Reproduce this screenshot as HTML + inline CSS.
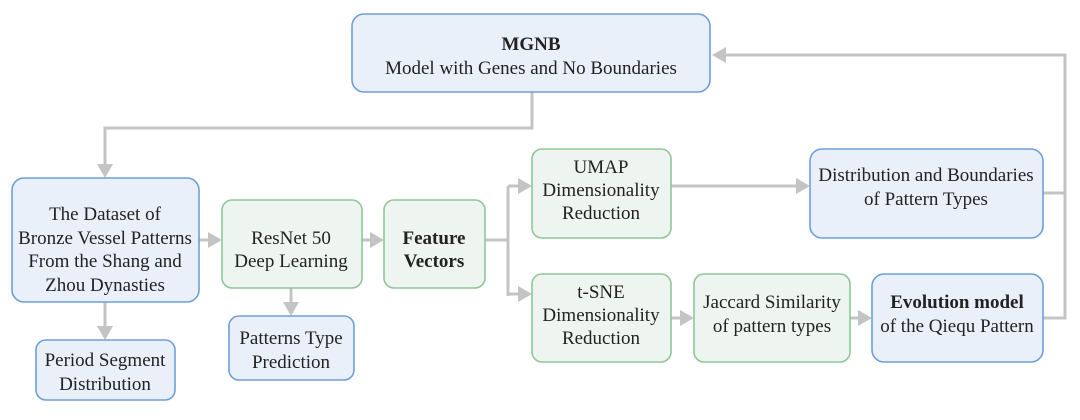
<!DOCTYPE html>
<html><head><meta charset="utf-8"><style>
body{margin:0;background:#fff}
text{font-family:"Liberation Serif","Times New Roman","DejaVu Serif",serif;font-size:19px;fill:#222;text-anchor:middle}
.b{fill:#e9f0fa;stroke:#6d9fdb;stroke-width:1.6}
.g{fill:#eef4f0;stroke:#8ec79c;stroke-width:1.6}
.l{fill:none;stroke:#c4c4c4;stroke-width:3}
.a{fill:#c4c4c4}
</style></head><body>
<svg width="1080" height="415" xmlns="http://www.w3.org/2000/svg">
<path class="l" d="M532 92 V128 H105 V166"/><polygon class="a" points="97,164 113,164 105,178"/>
<path class="l" d="M105 302 V328"/><polygon class="a" points="97,326 113,326 105,340"/>
<path class="l" d="M199 240 H210"/><polygon class="a" points="208,232 208,248 222,240"/>
<path class="l" d="M291 288 V304"/><polygon class="a" points="283,302 299,302 291,316"/>
<path class="l" d="M362 240 H372"/><polygon class="a" points="370,232 370,248 384,240"/>
<path class="l" d="M485 240 H508 M508 186 V296 M508 186 H520 M508 294 H520"/>
<polygon class="a" points="518,178 518,194 532,186"/><polygon class="a" points="518,286 518,302 532,294"/>
<path class="l" d="M671 186 H798"/><polygon class="a" points="796,178 796,194 810,186"/>
<path class="l" d="M671 318 H682"/><polygon class="a" points="680,310 680,326 694,318"/>
<path class="l" d="M850 318 H860"/><polygon class="a" points="858,310 858,326 872,318"/>
<path class="l" d="M1043 318 H1065 V55 H724 M1043 193 H1065"/><polygon class="a" points="726,47 726,63 712,55"/>
<rect class="b" x="352" y="14" width="358" height="78" rx="12"/>
<text x="531" y="50" font-weight="bold">MGNB</text><text x="531" y="74">Model with Genes and No Boundaries</text>
<rect class="b" x="12" y="178" width="187" height="124" rx="12"/>
<text x="105" y="220">The Dataset of</text><text x="105" y="244">Bronze Vessel Patterns</text><text x="105" y="267">From  the Shang and</text><text x="105" y="291">Zhou  Dynasties</text>
<rect class="b" x="36" y="340" width="139" height="60" rx="10"/>
<text x="105" y="366">Period Segment</text><text x="105" y="390">Distribution</text>
<rect class="g" x="222" y="200" width="140" height="88" rx="10"/>
<text x="291" y="244">ResNet 50</text><text x="291" y="267">Deep Learning</text>
<rect class="b" x="229" y="316" width="125" height="64" rx="10"/>
<text x="291" y="344">Patterns Type</text><text x="291" y="368">Prediction</text>
<rect class="g" x="384" y="200" width="101" height="88" rx="10"/>
<text x="434" y="244" font-weight="bold">Feature</text><text x="434" y="267" font-weight="bold">Vectors</text>
<rect class="g" x="532" y="149" width="139" height="89" rx="10"/>
<text x="601" y="173">UMAP</text><text x="601" y="196">Dimensionality</text><text x="601" y="219">Reduction</text>
<rect class="b" x="810" y="149" width="233" height="89" rx="12"/>
<text x="926" y="181">Distribution and Boundaries</text><text x="926" y="205">of Pattern Types</text>
<rect class="g" x="532" y="274" width="139" height="88" rx="10"/>
<text x="601" y="298">t-SNE</text><text x="601" y="321">Dimensionality</text><text x="601" y="344">Reduction</text>
<rect class="g" x="694" y="274" width="156" height="88" rx="10"/>
<text x="772" y="308">Jaccard Similarity</text><text x="772" y="332">of pattern types</text>
<rect class="b" x="872" y="274" width="171" height="88" rx="12"/>
<text x="957" y="308" font-weight="bold">Evolution model</text><text x="957" y="332">of the Qiequ Pattern</text>
</svg>
</body></html>
